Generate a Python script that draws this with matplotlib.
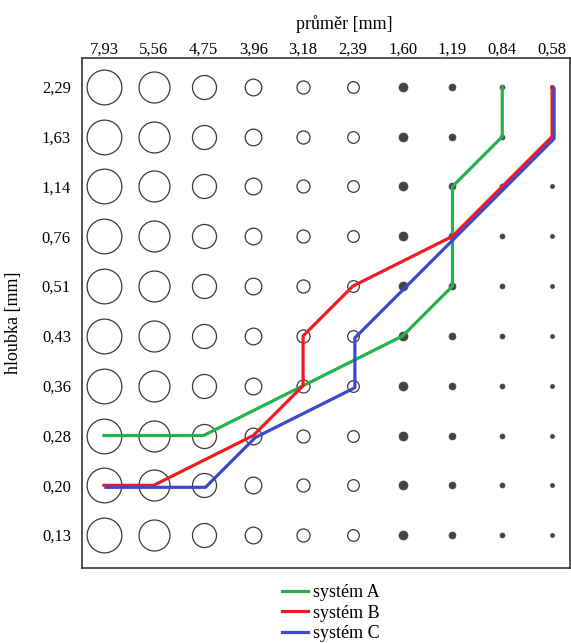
# sieve grid with grain-size curves of three systems

import matplotlib
matplotlib.use("Agg")
import matplotlib.pyplot as plt
import matplotlib.transforms as mtransforms

plt.rcParams['font.family'] = ['Liberation Serif', 'DejaVu Serif']

# column / row categories (as printed on the chart)
diameters = ["7,93", "5,56", "4,75", "3,96", "3,18", "2,39", "1,60", "1,19", "0,84", "0,58"]
depths = ["2,29", "1,63", "1,14", "0,76", "0,51", "0,43", "0,36", "0,28", "0,20", "0,13"]

# curves, given as (diameter, depth) category pairs
system_a_d = ["7,93", "4,75", "1,60", "1,19", "1,19", "0,84", "0,84"]
system_a_h = ["0,28", "0,28", "0,43", "0,51", "1,14", "1,63", "2,29"]

system_b_d = ["7,93", "5,56", "3,96", "3,18", "3,18", "2,39", "1,19", "0,58", "0,58"]
system_b_h = ["0,20", "0,20", "0,28", "0,36", "0,43", "0,51", "0,76", "1,63", "2,29"]

system_c_d = ["7,93", "4,75", "3,96", "2,39", "2,39", "1,19", "0,58", "0,58"]
system_c_h = ["0,20", "0,20", "0,28", "0,36", "0,43", "0,76", "1,63", "2,29"]

# marker look per column (diameter in points, open or filled)
marker_sizes = [25, 22.3, 17.3, 12, 9.4, 8.4, 6.5, 5, 3.6, 2.9]
filled = [False] * 6 + [True] * 4


def to_xy(d_list, h_list):
    xs = [diameters.index(d) for d in d_list]
    ys = [depths.index(h) for h in h_list]
    return xs, ys


fig = plt.figure(figsize=(5.71, 6.43), dpi=100)
ax = fig.add_axes([82 / 571, 1 - 568 / 643, 488 / 571, 510 / 643])

# the grid of sieve circles
for i in range(len(diameters)):
    for j in range(len(depths)):
        if filled[i]:
            ax.plot(i, j, 'o', ms=marker_sizes[i], mfc='#444444', mec='#444444',
                    mew=0.5, zorder=2)
        else:
            ax.plot(i, j, 'o', ms=marker_sizes[i], mfc='none', mec='#3a3a3a',
                    mew=0.9, zorder=2)

lw = 2.3
xa, ya = to_xy(system_a_d, system_a_h)
ax.plot(xa, ya, color='#22b14c', lw=lw, label='systém A', zorder=3)

xb, yb = to_xy(system_b_d, system_b_h)
ax.plot(xb, yb, color='#ed1c24', lw=lw, label='systém B', zorder=3)

# blue drawn slightly shifted, as in the original sketch
shift = mtransforms.offset_copy(ax.transData, fig=fig, x=2, y=-2, units='dots')
xc, yc = to_xy(system_c_d, system_c_h)
ax.plot(xc, yc, color='#3f48cc', lw=lw, label='systém C', zorder=3,
        transform=shift)

ax.set_xlim(-0.44, 9.36)
ax.set_ylim(9.66, -0.58)

ax.xaxis.tick_top()
ax.set_xticks(range(len(diameters)), diameters)
ax.set_yticks(range(len(depths)), depths)
ax.tick_params(axis='x', length=0, pad=0, labelsize=12)
ax.tick_params(axis='y', length=0, pad=8, labelsize=12)

for sp in ax.spines.values():
    sp.set_color('#444444')
    sp.set_linewidth(1.3)

fig.text(344 / 571, 1 - 24 / 643, 'průměr [mm]', ha='center', va='center', fontsize=13)
fig.text(14 / 571, 1 - 323 / 643, 'hloubka [mm]', ha='center', va='center',
         rotation=90, fontsize=13)

fig.legend(loc='center', bbox_to_anchor=(331 / 571, 1 - 613 / 643), frameon=False,
           fontsize=13, handlelength=1.45, handletextpad=0.3, labelspacing=0.2,
           borderpad=0)

fig.savefig('out.png', dpi=100)
